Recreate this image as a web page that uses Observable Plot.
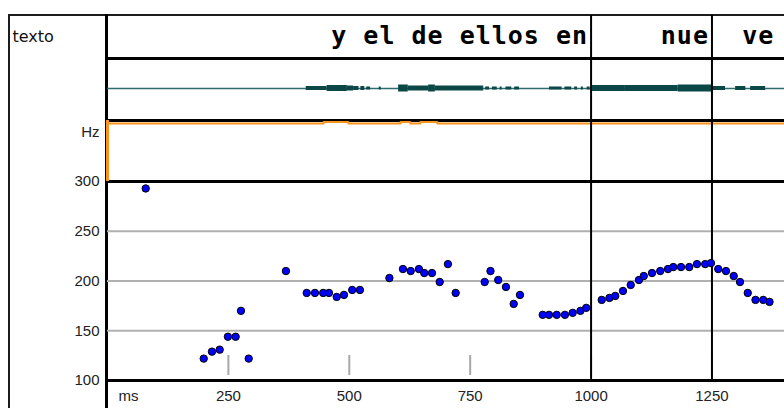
<!DOCTYPE html>
<html><head><meta charset="utf-8">
<script src="https://cdn.jsdelivr.net/npm/d3@7"></script>
<script src="https://cdn.jsdelivr.net/npm/@observablehq/plot@0.6"></script>
<style>
html,body{margin:0;padding:0;background:#fff;}
#chart{position:relative;width:784px;height:408px;overflow:hidden;background:#fff;}
#chart .ln{position:absolute;background:#000;}
#chart .panel{position:absolute;left:0;}
#chart svg{display:block;}
</style></head><body><div id="chart"></div>
<script>
// ---- data ----
const segStart = [0, 1000, 1250];
const segEnd = [1000, 1250, 1385];
const segText = ["y el de ellos en", "nue", "ve"];
const boundaries = [1000, 1250];

const pitchMs = [79,199,216,232,249,265,276,292,369,412,429,446,458,474,489,506,522,583,611,627,644,655,671,687,704,720,780,792,808,824,840,853,900,913,929,946,962,978,990,1022,1038,1050,1066,1082,1099,1109,1126,1143,1159,1170,1186,1203,1219,1236,1248,1263,1279,1295,1308,1324,1340,1356,1369];
const pitchHz = [293,122,129,131,144,144,170,122,210,188,188,188,188,184,186,191,191,203,212,210,212,208,208,199,217,188,199,210,201,194,177,186,166,166,166,166,168,170,173,181,183,185,190,196,201,205,208,210,212,214,214,214,217,217,218,212,210,205,199,188,181,181,179];

const waveStart = [411,454,496,509,524,536,562,602,622,664,678,782,796,812,824,842,914,946,966,980,992,1003,1071,1180,1251,1299,1330];
const waveEnd   = [454,496,509,520,532,544,566,622,664,678,778,790,806,816,836,852,940,960,972,984,998,1071,1180,1251,1278,1320,1361];
const waveAmp   = [2,3,2.5,2,2,1.5,1.5,3.5,2.5,3.5,2.5,1.5,1.5,1.5,1.5,1.5,1.5,1.5,1.5,1.5,1.5,3,3,3.5,2,2,2];

const energyMs    = [0,447,498,606,626,647,682,1400];
const energyLevel = [0,1.5,0,1.5,0,1.5,0,0];

const xTicks = [250,500,750,1000,1250];
const yTicks = [100,150,200,250,300];

// ---- tables ----
const segs = segStart.map((s,i)=>({start:s,end:segEnd[i],label:segText[i]}));
const pitch = pitchMs.map((m,i)=>({ms:m,hz:pitchHz[i]}));
const wave = waveStart.map((s,i)=>({start:s,end:waveEnd[i],amp:waveAmp[i]}));
const energy = energyMs.map((m,i)=>({ms:m,level:energyLevel[i]}));

const chart = document.getElementById("chart");
function line(l,t,w,h,c){const d=document.createElement("div");d.className="ln";d.style.cssText=`left:${l}px;top:${t}px;width:${w}px;height:${h}px;background:${c||"#000"}`;chart.appendChild(d);}
// frame structure
line(8,14,776,2,"#1c1c1c");
line(8,14,2,394,"#1c1c1c");
line(105,14,3,394);
line(105,57,679,3);
line(105,119,679,3);
line(105,180,679,3);
line(105,379,679,3);

function place(svg, top){const d=document.createElement("div");d.className="panel";d.style.top=top+"px";d.appendChild(svg);chart.appendChild(d);}

const common = {width:784, marginLeft:107, marginRight:0, marginTop:0, marginBottom:0};
const xHidden = {domain:[0,1400], axis:null};
const narrow = "'Liberation Sans Narrow','Liberation Sans',Arial,sans-serif";

// text row
const p1 = Plot.plot({...common, height:43, x:xHidden,
  style:{background:"transparent", overflow:"visible"},
  marks:[
    Plot.ruleX(boundaries,{stroke:"#000", strokeWidth:2}),
    Plot.text(segs,{x:"end", text:"label", frameAnchor:"top", lineAnchor:"top", textAnchor:"end", dx:-3, dy:11,
      fontFamily:"'DejaVu Sans Mono',monospace", fontWeight:"bold", fontSize:25, fill:"#000"}),
    Plot.text(["texto"],{text:d=>d, frameAnchor:"top-left", lineAnchor:"top", textAnchor:"start", dx:-95, dy:15,
      fontFamily:"'DejaVu Sans',sans-serif", fontSize:16, fill:"#111"})
  ]});
p1.querySelectorAll("text").forEach(t=>{ if(t.textContent!=="texto") t.style.letterSpacing="1px"; });
place(p1,15);

// waveform
const p2 = Plot.plot({...common, height:62, x:xHidden, y:{domain:[-32,30], axis:null},
  style:{background:"transparent", overflow:"visible"},
  marks:[
    Plot.ruleY([0],{stroke:"#2f6d6d", strokeWidth:1.5}),
    Plot.rect(wave,{x1:"start", x2:"end", y1:d=>-d.amp, y2:d=>d.amp, fill:"#0b4747"}),
    Plot.ruleX(boundaries,{stroke:"#000", strokeWidth:2})
  ]});
place(p2,58);

// energy (orange)
const p3 = Plot.plot({...common, height:61, x:xHidden, y:{domain:[-58,3], axis:null},
  style:{background:"transparent", overflow:"visible"},
  marks:[
    Plot.line(energy,{x:"ms", y:"level", curve:"step-after", stroke:"#f7941d", strokeWidth:2}),
    Plot.ruleX([0],{stroke:"#f7941d", strokeWidth:3}),
    Plot.ruleX(boundaries,{stroke:"#000", strokeWidth:2}),
    Plot.text(["Hz"],{text:d=>d, frameAnchor:"top-left", lineAnchor:"top", textAnchor:"end", dx:-8, dy:6,
      fontFamily:narrow, fontSize:15, fill:"#222"})
  ]});
place(p3,120);

// pitch
const p4 = Plot.plot({...common, height:227, marginBottom:28,
  x:{domain:[0,1400], ticks:xTicks, tickSize:0, tickPadding:10, label:null, tickFormat:d=>String(d)},
  y:{domain:[100,300], ticks:yTicks, tickSize:0, tickPadding:8, label:null, tickFormat:d=>String(d)},
  style:{background:"transparent", overflow:"visible", fontFamily:narrow, fontSize:"15px", color:"#222"},
  marks:[
    Plot.ruleY([150,200,250],{stroke:"#b0b0b0", strokeWidth:2}),
    Plot.ruleX(xTicks,{stroke:"#a8a8a8", strokeWidth:2, insetTop:174, insetBottom:5}),
    Plot.ruleX(boundaries,{stroke:"#000", strokeWidth:2}),
    Plot.dot(pitch,{x:"ms", y:"hz", r:3.7, fill:"#0000ff", stroke:"#000", strokeWidth:1}),
    Plot.text(["ms"],{text:d=>d, frameAnchor:"bottom-left", lineAnchor:"top", textAnchor:"start", dx:11, dy:10,
      fontFamily:narrow, fontSize:15, fill:"#222"})
  ]});
place(p4,181);
</script></body></html>
